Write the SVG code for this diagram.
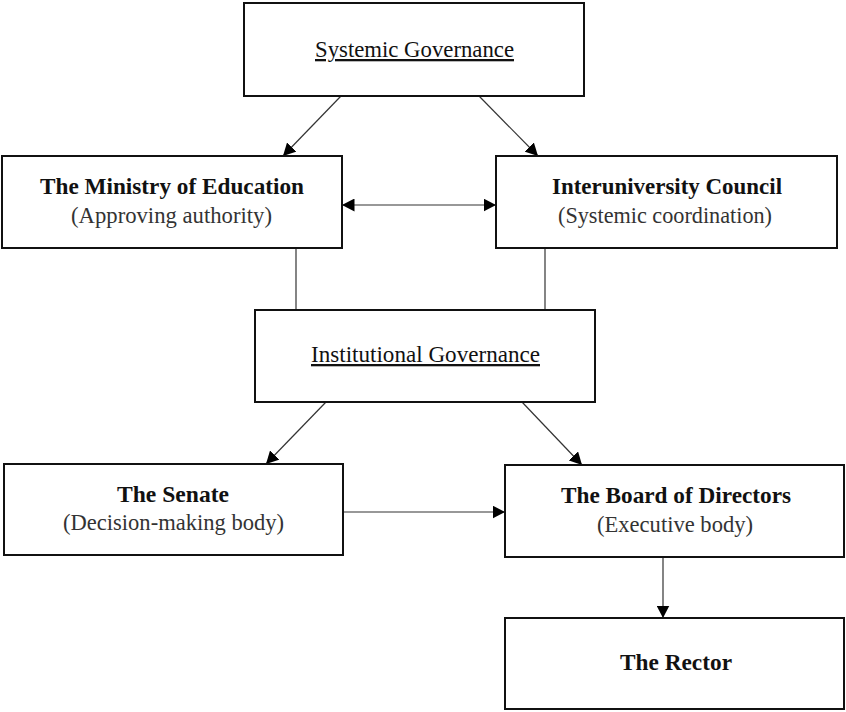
<svg xmlns="http://www.w3.org/2000/svg" width="846" height="712" viewBox="0 0 846 712">
<style>
  .box { fill: #ffffff; stroke: #111111; stroke-width: 2; }
  .conn { fill: none; stroke: #333333; stroke-width: 1.2; }
  .t { font-family: "Liberation Serif", "Times New Roman", serif; font-size: 23px; text-anchor: middle; }
  .title { font-weight: bold; fill: #111111; }
  .sub { fill: #333333; }
  .head { fill: #111111; text-decoration: underline; }
</style>
<defs>
  <marker id="arr" markerUnits="userSpaceOnUse" markerWidth="13" markerHeight="13" refX="12.5" refY="6.5" orient="auto-start-reverse">
    <path d="M0,0 L12.5,6.5 L0,13 Z" fill="#000000"/>
  </marker>
</defs>
<rect width="846" height="712" fill="#ffffff"/>

<g id="connectors">
  <path class="conn" d="M341,96 L283,156" marker-end="url(#arr)"/>
  <path class="conn" d="M479,96 L538,156" marker-end="url(#arr)"/>
  <path class="conn" d="M342,205 L496,205" marker-start="url(#arr)" marker-end="url(#arr)"/>
  <path class="conn" d="M296,248 L296,310"/>
  <path class="conn" d="M545,248 L545,310"/>
  <path class="conn" d="M326,402 L266,464" marker-end="url(#arr)"/>
  <path class="conn" d="M522,402 L582,465" marker-end="url(#arr)"/>
  <path class="conn" d="M343,512 L505,512" marker-end="url(#arr)"/>
  <path class="conn" d="M663,557 L663,618" marker-end="url(#arr)"/>
</g>

<g id="systemic">
  <rect class="box" x="244" y="3" width="340" height="93"/>
  <text class="t head" x="414.5" y="57" textLength="199" lengthAdjust="spacingAndGlyphs">Systemic Governance</text>
</g>

<g id="ministry">
  <rect class="box" x="2" y="156" width="340" height="92"/>
  <text class="t title" x="172" y="194" textLength="264" lengthAdjust="spacingAndGlyphs">The Ministry of Education</text>
  <text class="t sub" x="171.5" y="223" textLength="201" lengthAdjust="spacingAndGlyphs">(Approving authority)</text>
</g>

<g id="interuniversity">
  <rect class="box" x="496" y="156" width="341" height="92"/>
  <text class="t title" x="667" y="194" textLength="230" lengthAdjust="spacingAndGlyphs">Interuniversity Council</text>
  <text class="t sub" x="665" y="223" textLength="214" lengthAdjust="spacingAndGlyphs">(Systemic coordination)</text>
</g>

<g id="institutional">
  <rect class="box" x="255" y="310" width="340" height="92"/>
  <text class="t head" x="425.5" y="362" textLength="229" lengthAdjust="spacingAndGlyphs">Institutional Governance</text>
</g>

<g id="senate">
  <rect class="box" x="4" y="464" width="339" height="91"/>
  <text class="t title" x="173" y="502" textLength="112" lengthAdjust="spacingAndGlyphs">The Senate</text>
  <text class="t sub" x="173.5" y="530" textLength="221" lengthAdjust="spacingAndGlyphs">(Decision-making body)</text>
</g>

<g id="board">
  <rect class="box" x="505" y="465" width="339" height="92"/>
  <text class="t title" x="676" y="503" textLength="230" lengthAdjust="spacingAndGlyphs">The Board of Directors</text>
  <text class="t sub" x="675" y="532" textLength="156" lengthAdjust="spacingAndGlyphs">(Executive body)</text>
</g>

<g id="rector">
  <rect class="box" x="505" y="618" width="339" height="91"/>
  <text class="t title" x="676" y="670" textLength="112" lengthAdjust="spacingAndGlyphs">The Rector</text>
</g>
</svg>
